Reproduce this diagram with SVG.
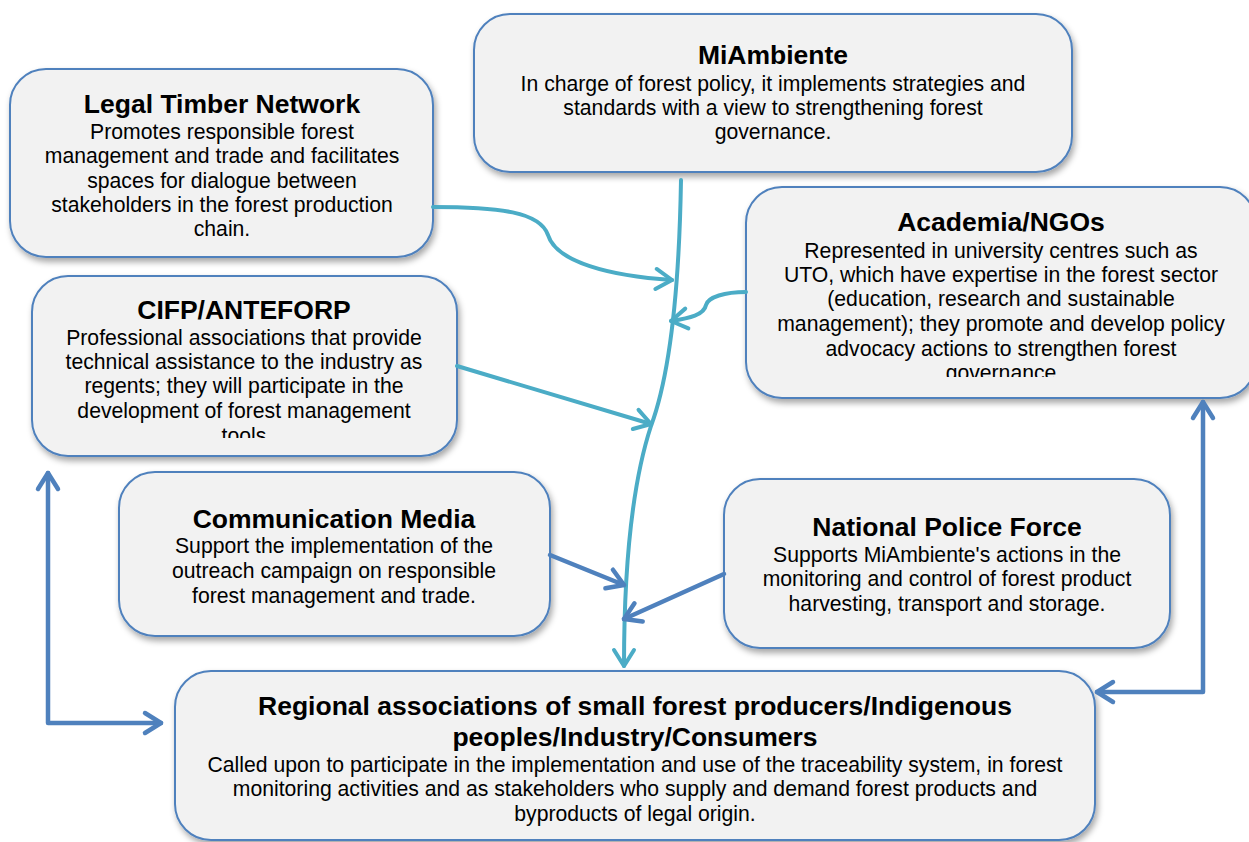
<svg xmlns="http://www.w3.org/2000/svg" width="1249" height="842" viewBox="0 0 1249 842">
<style>
.box{fill:#F2F2F2;stroke:#4F81BD;stroke-width:2;filter:url(#sh)}
.t{font-family:"Liberation Sans",Arial,sans-serif;font-weight:bold;font-size:26.5px;fill:#000;text-anchor:middle}
.b{font-family:"Liberation Sans",Arial,sans-serif;font-size:21.2px;fill:#000;text-anchor:middle}
.teal{fill:none;stroke:#4BACC6;stroke-width:4;stroke-linecap:round;stroke-linejoin:round}
.blue{fill:none;stroke:#4F81BD;stroke-width:4.5;stroke-linecap:round;stroke-linejoin:round}
</style>
<defs>
<filter id="sh" x="-10%" y="-10%" width="125%" height="130%">
<feDropShadow dx="2" dy="4" stdDeviation="3" flood-color="#000" flood-opacity="0.35"/>
</filter>
<marker id="at" viewBox="-22 -14 26 28" markerWidth="26" markerHeight="28" refX="0" refY="0" orient="auto-start-reverse" markerUnits="userSpaceOnUse">
<path d="M-16,-10 L0,0 L-16,10" fill="none" stroke="#4BACC6" stroke-width="4" stroke-linecap="round" stroke-linejoin="round"/>
</marker>
<marker id="ab" viewBox="-22 -14 26 28" markerWidth="26" markerHeight="28" refX="0" refY="0" orient="auto-start-reverse" markerUnits="userSpaceOnUse">
<path d="M-16,-10 L0,0 L-16,10" fill="none" stroke="#4F81BD" stroke-width="4.5" stroke-linecap="round" stroke-linejoin="round"/>
</marker>
<clipPath id="cA"><rect x="746" y="187" width="510" height="190"/></clipPath>
<clipPath id="cC"><rect x="32" y="276" width="425" height="162"/></clipPath>
</defs>

<g id="legal-timber">
<rect class="box" x="10" y="69" width="423" height="188" rx="36"/>
<text class="t" x="222" y="113">Legal Timber Network</text>
<text class="b" x="222" y="139">Promotes responsible forest</text>
<text class="b" x="222" y="163">management and trade and facilitates</text>
<text class="b" x="222" y="188">spaces for dialogue between</text>
<text class="b" x="222" y="212">stakeholders in the forest production</text>
<text class="b" x="222" y="236">chain.</text>
</g>

<g id="miambiente">
<rect class="box" x="474" y="14" width="598" height="158" rx="36"/>
<text class="t" x="773" y="64">MiAmbiente</text>
<text class="b" x="773" y="91">In charge of forest policy, it implements strategies and</text>
<text class="b" x="773" y="115">standards with a view to strengthening forest</text>
<text class="b" x="773" y="139">governance.</text>
</g>

<g id="academia">
<rect class="box" x="746" y="187" width="510" height="211" rx="36"/>
<g clip-path="url(#cA)">
<text class="t" x="1001" y="231">Academia/NGOs</text>
<text class="b" x="1001" y="258">Represented in university centres such as</text>
<text class="b" x="1001" y="282">UTO, which have expertise in the forest sector</text>
<text class="b" x="1001" y="306">(education, research and sustainable</text>
<text class="b" x="1001" y="331">management); they promote and develop policy</text>
<text class="b" x="1001" y="356">advocacy actions to strengthen forest</text>
<text class="b" x="1001" y="380">governance</text>
</g>
</g>

<g id="cifp">
<rect class="box" x="32" y="276" width="425" height="180" rx="36"/>
<g clip-path="url(#cC)">
<text class="t" x="244" y="319">CIFP/ANTEFORP</text>
<text class="b" x="244" y="345">Professional associations that provide</text>
<text class="b" x="244" y="369">technical assistance to the industry as</text>
<text class="b" x="244" y="393">regents; they will participate in the</text>
<text class="b" x="244" y="418">development of forest management</text>
<text class="b" x="244" y="443">tools</text>
</g>
</g>

<g id="communication-media">
<rect class="box" x="119" y="472" width="431" height="164" rx="36"/>
<text class="t" x="334" y="528">Communication Media</text>
<text class="b" x="334" y="553">Support the implementation of the</text>
<text class="b" x="334" y="578">outreach campaign on responsible</text>
<text class="b" x="334" y="603">forest management and trade.</text>
</g>

<g id="police">
<rect class="box" x="724" y="479" width="446" height="169" rx="36"/>
<text class="t" x="947" y="536">National Police Force</text>
<text class="b" x="947" y="562">Supports MiAmbiente's actions in the</text>
<text class="b" x="947" y="586">monitoring and control of forest product</text>
<text class="b" x="947" y="611">harvesting, transport and storage.</text>
</g>

<g id="regional">
<rect class="box" x="175" y="671" width="920" height="169" rx="36"/>
<text class="t" x="635" y="715">Regional associations of small forest producers/Indigenous</text>
<text class="t" x="635" y="746">peoples/Industry/Consumers</text>
<text class="b" x="635" y="772">Called upon to participate in the implementation and use of the traceability system, in forest</text>
<text class="b" x="635" y="796">monitoring activities and as stakeholders who supply and demand forest products and</text>
<text class="b" x="635" y="821">byproducts of legal origin.</text>
</g>

<g id="connectors">
<path class="teal" d="M681,180 C679,300 668,380 651,426 C630,490 624,580 624,666" marker-end="url(#at)"/>
<path class="teal" d="M433,207 C500,207 540,212 548,235 C556,262 610,276 672,280" marker-end="url(#at)"/>
<path class="teal" d="M746,292 C725,292 708,297 706,305 C704,315 690,318 671,321" marker-end="url(#at)"/>
<path class="teal" d="M457,366 L651,424" marker-end="url(#at)"/>
<path class="blue" d="M550,555 L624,585" marker-end="url(#ab)"/>
<path class="blue" d="M724,574 L624,619" marker-end="url(#ab)"/>
<path class="blue" d="M48,473 L48,723 L161,723" marker-start="url(#ab)" marker-end="url(#ab)"/>
<path class="blue" d="M1203,402 L1203,692 L1097,692" marker-start="url(#ab)" marker-end="url(#ab)"/>
</g>
</svg>
